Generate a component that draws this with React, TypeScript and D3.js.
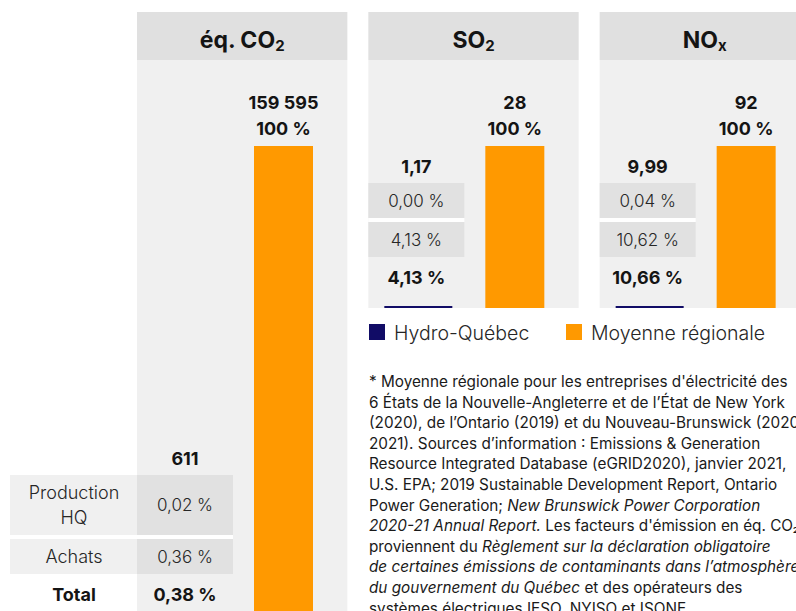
import React from 'react'
import * as d3 from 'd3'

// polluants (en-têtes) : texte principal + indice
const pollutants = ['CO2', 'SO2', 'NOx']
const pollutantMain = ['éq. CO', 'SO', 'NO']
const pollutantSub = ['2', '2', 'x']

// moyenne régionale (t) et étiquettes
const regionalValues = [159595, 28, 92]
const regionalLabels = ['159 595', '28', '92']
const regionalPctLabels = ['100 %', '100 %', '100 %']

// Hydro-Québec
const hqValues = [611, 1.17, 9.99]
const hqLabels = ['611', '1,17', '9,99']
const productionPct = ['0,02 %', '0,00 %', '0,04 %']
const achatsPct = ['0,36 %', '4,13 %', '10,62 %']
const totalPct = ['0,38 %', '4,13 %', '10,66 %']

const rowLabels = [['Production', 'HQ'], ['Achats'], ['Total']]

const legendLabels = ['Hydro-Québec', 'Moyenne régionale']

// note de bas de page : segments [texte, italique]
const footnote: [string, boolean][][] = [
  [['* Moyenne régionale pour les entreprises d\'électricité des', false]],
  [['6 États de la Nouvelle-Angleterre et de l’État de New York', false]],
  [['(2020), de l’Ontario (2019) et du Nouveau-Brunswick (2020-', false]],
  [['2021). Sources d’information : Emissions & Generation', false]],
  [['Resource Integrated Database (eGRID2020), janvier 2021,', false]],
  [['U.S. EPA; 2019 Sustainable Development Report, Ontario', false]],
  [['Power Generation; ', false], ['New Brunswick Power Corporation', true]],
  [['2020-21 Annual Report.', true], [' Les facteurs d\'émission en éq. CO₂', false]],
  [['proviennent du ', false], ['Règlement sur la déclaration obligatoire', true]],
  [['de certaines émissions de contaminants dans l’atmosphère', true]],
  [['du gouvernement du Québec', true], [' et des opérateurs des', false]],
  [['systèmes électriques IESO, NYISO et ISONE.', false]],
]

const W = 796
const H = 611
const FONT = 'Inter, "Noto Sans", sans-serif'
const NAVY = '#110c66'
const ORANGE = '#ff9900'
const HEAD_BG = '#e0e0e0'
const BODY_BG = '#f0f0f0'
const CELL_BG = '#e1e1e1'
const INK = '#141414'
const SOFT = '#262626'

export default function App() {
  const x = d3.scaleBand<string>()
    .domain(pollutants)
    .range([137, 810])
    .paddingInner(21 / 231.5)
    .paddingOuter(0)
  const bw = x.bandwidth()

  // bas de chaque panneau (le premier déborde de l'image)
  const panelBottom = [625, 308, 308]
  const barTop = 146
  const headTop = 12
  const headBottom = 60

  // colonnes à l'intérieur d'un panneau
  const hqCellW = 96
  const regW = 59
  const regX = 117
  const hqBarX = 16
  const hqBarW = 68

  return (
    <svg width={W} height={H} style={{ position: 'absolute', left: 0, top: 0 }} fontFamily={FONT}>
      <rect width={W} height={H} fill="#fff" />
      {pollutants.map((p, i) => {
        const px = x(p) as number
        const bottom = panelBottom[i]
        const y = d3.scaleLinear().domain([0, regionalValues[i]]).range([bottom, barTop])
        const firstRowH = i === 0 ? 60 : 35
        const totalY = bottom - 31
        const row2Bot = bottom - 51
        const row2Top = row2Bot - 35
        const row1Bot = row2Top - 4
        const row1Top = row1Bot - firstRowH
        const hqValY = row1Top - 17
        const hqCx = px + hqCellW / 2
        const regCx = px + regX + regW / 2
        const labelX0 = i === 0 ? 10 : px
        return (
          <g key={p}>
            <rect x={px} y={headTop} width={bw} height={headBottom - headTop} fill={HEAD_BG} />
            <rect x={px} y={headBottom} width={bw} height={bottom - headBottom} fill={BODY_BG} />
            <text x={px + bw / 2} y={40} textAnchor="middle" dominantBaseline="central"
              fontSize={23} fontWeight={700} fill={INK}>
              {pollutantMain[i]}
              <tspan fontSize={15} dy={5}>{pollutantSub[i]}</tspan>
            </text>

            {/* moyenne régionale */}
            <rect x={px + regX} y={y(regionalValues[i])} width={regW}
              height={bottom - y(regionalValues[i])} fill={ORANGE} />
            <text x={regCx} y={102} textAnchor="middle" dominantBaseline="central"
              fontSize={18} fontWeight={700} fill={INK}>{regionalLabels[i]}</text>
            <text x={regCx} y={128} textAnchor="middle" dominantBaseline="central"
              fontSize={18} fontWeight={700} fill={INK}>{regionalPctLabels[i]}</text>

            {/* Hydro-Québec : repère au bas du panneau */}
            <rect x={px + hqBarX} y={bottom - 2} width={hqBarW} height={2} fill={NAVY}
              data-value={y(hqValues[i])} />

            <text x={hqCx} y={hqValY} textAnchor="middle" dominantBaseline="central"
              fontSize={18} fontWeight={700} fill={INK}>{hqLabels[i]}</text>

            {i === 0 && (
              <>
                <rect x={labelX0} y={row1Top} width={px - labelX0} height={firstRowH} fill={BODY_BG} />
                <rect x={labelX0} y={row2Top} width={px - labelX0} height={35} fill={BODY_BG} />
              </>
            )}
            <rect x={px} y={row1Top} width={hqCellW} height={firstRowH} fill={CELL_BG} />
            <rect x={px} y={row2Top} width={hqCellW} height={35} fill={CELL_BG} />
            <rect x={labelX0} y={row1Bot} width={px + hqCellW - labelX0} height={4} fill="#fff" />

            <text x={hqCx} y={(row1Top + row1Bot) / 2} textAnchor="middle" dominantBaseline="central"
              fontSize={17} fontWeight={300} fill={SOFT}>{productionPct[i]}</text>
            <text x={hqCx} y={(row2Top + row2Bot) / 2} textAnchor="middle" dominantBaseline="central"
              fontSize={17} fontWeight={300} fill={SOFT}>{achatsPct[i]}</text>
            <text x={hqCx} y={totalY} textAnchor="middle" dominantBaseline="central"
              fontSize={18} fontWeight={700} fill={INK}>{totalPct[i]}</text>

            {i === 0 && (
              <>
                {rowLabels[0].map((l, k) => (
                  <text key={l} x={74} y={(row1Top + row1Bot) / 2 + (k - 0.5) * 25}
                    textAnchor="middle" dominantBaseline="central"
                    fontSize={18} fontWeight={300} fill={SOFT}>{l}</text>
                ))}
                <text x={74} y={(row2Top + row2Bot) / 2} textAnchor="middle" dominantBaseline="central"
                  fontSize={18} fontWeight={300} fill={SOFT}>{rowLabels[1][0]}</text>
                <text x={74} y={totalY} textAnchor="middle" dominantBaseline="central"
                  fontSize={18} fontWeight={700} fill={INK}>{rowLabels[2][0]}</text>
              </>
            )}
          </g>
        )
      })}

      {/* légende */}
      {legendLabels.map((l, i) => {
        const lx = i === 0 ? 369 : 566
        return (
          <g key={l}>
            <rect x={lx} y={324} width={16} height={16} fill={i === 0 ? NAVY : ORANGE} />
            <text x={lx + 25} y={333} dominantBaseline="central" fontSize={19.5} fontWeight={300}
              fill={SOFT}>{l}</text>
          </g>
        )
      })}

      {/* note */}
      <text fontSize={15.3} fill="#1a1a1a" fontWeight={400}>
        {footnote.map((line, li) => (
          <tspan key={li} x={369} y={387 + li * 20.6}>
            {line.map(([t, it], si) => (
              <tspan key={si} fontStyle={it ? 'italic' : 'normal'}>{t}</tspan>
            ))}
          </tspan>
        ))}
      </text>
    </svg>
  )
}
